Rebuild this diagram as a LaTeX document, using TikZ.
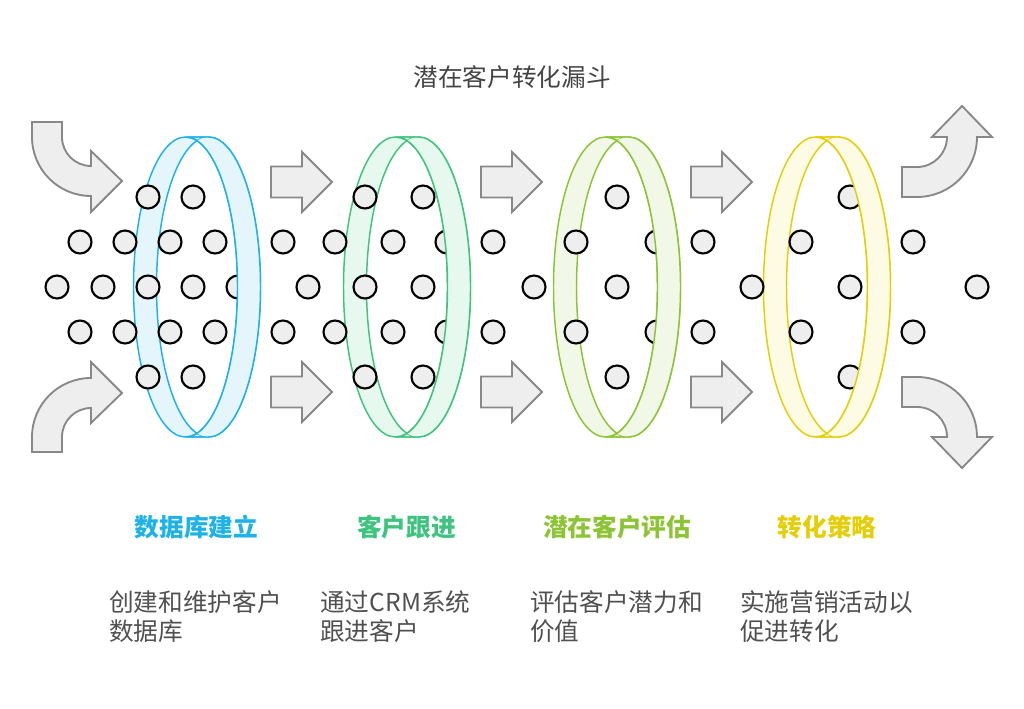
\documentclass[tikz,border=0pt]{standalone}
\usepackage{fontspec}
\newfontfamily\cjk{Noto Sans CJK SC}
\definecolor{ringlineA}{RGB}{30,178,230}
\definecolor{ringfillA}{RGB}{228,246,252}
\definecolor{ringlineB}{RGB}{62,196,126}
\definecolor{ringfillB}{RGB}{231,248,238}
\definecolor{ringlineC}{RGB}{140,196,52}
\definecolor{ringfillC}{RGB}{242,248,232}
\definecolor{ringlineD}{RGB}{228,206,10}
\definecolor{ringfillD}{RGB}{253,251,228}
\definecolor{dotfill}{RGB}{238,238,238}
\definecolor{flowgray}{RGB}{136,136,136}
\definecolor{flowfill}{RGB}{238,238,238}
\definecolor{titlegray}{RGB}{68,68,68}
\definecolor{textgray}{RGB}{80,80,80}

\begin{document}
\begin{tikzpicture}[x=0.75pt,y=0.75pt,
    dot/.style={draw=black,fill=dotfill,line width=1.6pt},
    flow/.style={draw=flowgray,fill=flowfill,line width=1.4pt,line join=miter},
    ringedge/.style={line width=1.1pt},
    stagehead/.style={font=\cjk\bfseries\fontsize{18.5}{22}\selectfont,inner sep=0pt},
    stagetext/.style={font=\cjk\fontsize{18.5}{21.75}\selectfont,text=textgray,align=left,anchor=north west,inner sep=0pt}]
        \useasboundingbox (0,-422) rectangle (1024,287);
        \node[font=\cjk\fontsize{18.5}{22}\selectfont,text=titlegray] (title) at (512,210) {潜在客户转化漏斗};
        \foreach \x/\n in {185.5/A,395.5/B,605.5/C,815.5/D}{
            \begin{scope}[shift={(\x,0)}]
                \fill[fill=ringfill\n] (0,150) -- (23,150) arc[start angle=90,end angle=-90,x radius=52,y radius=150] -- (0,-150) arc[start angle=270,end angle=90,x radius=52,y radius=150] -- cycle;
                \begin{scope}
                    \clip (0,0) ellipse [x radius=52,y radius=150];
                    \fill[white] (23,0) ellipse [x radius=52,y radius=150];
                \end{scope}
                \draw[ringedge,draw=ringline\n] (0,0) ellipse [x radius=52,y radius=150] (23,0) ellipse [x radius=52,y radius=150] (0,150) -- (23,150) (0,-150) -- (23,-150);
            \end{scope}
        }
        \foreach \x in {148,193,365,423,617,850}{
            \draw[dot] (\x,90) circle (11.5);
            \draw[dot] (\x,-90) circle (11.5);
        }
        \foreach \x in {80,125,170,215,283,335,393,447,493,576,657,703,801,913}{
            \draw[dot] (\x,45) circle (11.5);
            \draw[dot] (\x,-45) circle (11.5);
        }
        \foreach \x in {57,103,148,193,238,308,365,423,534,617,752,850,977}
            \draw[dot] (\x,0) circle (11.5);
        \foreach \x/\n in {185.5/A,395.5/B,605.5/C,815.5/D}{
            \begin{scope}[shift={(\x,0)}]
                \begin{scope}
                    \clip (11.5,-160) rectangle (90,160);
                    \fill[fill=ringfill\n,even odd rule] (0,0) ellipse [x radius=52,y radius=150] (23,0) ellipse [x radius=52,y radius=150];
                \end{scope}
                \draw[ringedge,draw=ringline\n] (0,150) arc[start angle=90,end angle=-90,x radius=52,y radius=150] (23,150) arc[start angle=90,end angle=-90,x radius=52,y radius=150] (0,150) -- (23,150) (0,-150) -- (23,-150);
            \end{scope}
        }
        \foreach \x in {271,481,691}
            \foreach \y in {105,-105}
                \draw[flow] (\x,\y+15.5) -- ++(31,0) -- ++(0,14.5) -- ++(30,-30) -- ++(-30,-30) -- ++(0,14.5) -- ++(-31,0) -- cycle;
        \draw[flow] (32,165) -- (62,165) -- (62,150) arc[start angle=180,end angle=270,radius=29] -- (91,136) -- (122,106) -- (91,75) -- (91,91) arc[start angle=270,end angle=180,radius=59] -- cycle;
        \draw[flow] (32,-165) -- (62,-165) -- (62,-150) arc[start angle=180,end angle=90,radius=29] -- (91,-136) -- (122,-106) -- (91,-75) -- (91,-91) arc[start angle=90,end angle=180,radius=59] -- cycle;
        \draw[flow] (902,90) -- (917,90) arc[start angle=-90,end angle=0,radius=60] -- (992,150) -- (962,181) -- (932,150) -- (947,150) arc[start angle=0,end angle=-90,radius=30] -- (902,120) -- cycle;
        \draw[flow] (902,-90) -- (917,-90) arc[start angle=90,end angle=0,radius=60] -- (992,-150) -- (962,-181) -- (932,-150) -- (947,-150) arc[start angle=0,end angle=90,radius=30] -- (902,-120) -- cycle;
        \node[stagehead,text=ringlineA] (dbHead) at (196.5,-240) {数据库建立};
        \node[stagehead,text=ringlineB] (followHead) at (406.5,-240) {客户跟进};
        \node[stagehead,text=ringlineC] (evalHead) at (617,-240) {潜在客户评估};
        \node[stagehead,text=ringlineD] (convHead) at (827,-240) {转化策略};
        \node[stagetext] (dbText) at (109,-303) {创建和维护客户\\数据库};
        \node[stagetext] (followText) at (320,-303) {通过CRM系统\\跟进客户};
        \node[stagetext] (evalText) at (530,-303) {评估客户潜力和\\价值};
        \node[stagetext] (convText) at (740,-303) {实施营销活动以\\促进转化};
\end{tikzpicture}
\end{document}
